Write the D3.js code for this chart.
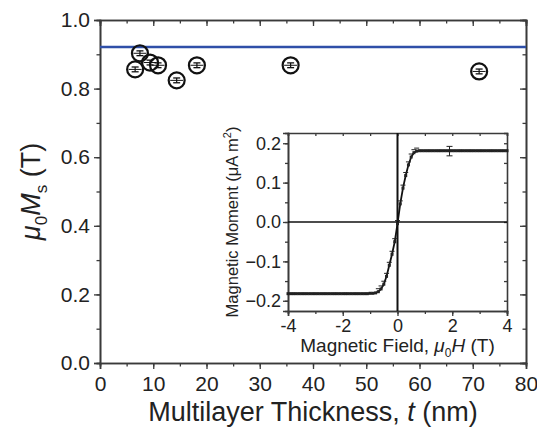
<!DOCTYPE html>
<html>
<head>
<meta charset="utf-8">
<script src="https://cdn.jsdelivr.net/npm/d3@7"></script>
<style>
  body { margin: 0; background: #fff; }
  svg { font-family: "Liberation Sans", Arial, sans-serif; }
</style>
</head>
<body>
<div id="chart"></div>
<script>
// main panel: saturation magnetisation vs multilayer thickness
var thickness = [6.6, 7.5, 9.4, 10.9, 14.4, 18.2, 35.8, 71.2];
var msValues = [0.856, 0.903, 0.876, 0.868, 0.824, 0.868, 0.868, 0.850];
var msErr = [0.007, 0.007, 0.007, 0.007, 0.007, 0.007, 0.007, 0.007];
var bulkMs = 0.921;
var xTicksMain = [0, 10, 20, 30, 40, 50, 60, 70, 80];
var yTicksMain = [0.0, 0.2, 0.4, 0.6, 0.8, 1.0];

// inset: hysteresis loop
var field = [-4.0, -3.9, -3.8, -3.7, -3.6, -3.5, -3.4, -3.3, -3.2, -3.1, -3.0, -2.9, -2.8, -2.7, -2.6, -2.5,
  -2.4, -2.3, -2.2, -2.1, -2.0, -1.9, -1.8, -1.7, -1.6, -1.5, -1.4, -1.3, -1.2, -1.1, -1.0, -0.9, -0.8,
  -0.7, -0.6, -0.5, -0.4, -0.3, -0.2, -0.1, 0.0, 0.1, 0.2, 0.3, 0.4, 0.5, 0.6, 0.7,
  0.8, 0.9, 1.0, 1.1, 1.2, 1.3, 1.4, 1.5, 1.6, 1.7, 1.8, 1.9, 2.0, 2.1, 2.2, 2.3, 2.4, 2.5,
  2.6, 2.7, 2.8, 2.9, 3.0, 3.1, 3.2, 3.3, 3.4, 3.5, 3.6, 3.7, 3.8, 3.9, 4.0];
var moment = [-0.182, -0.182, -0.182, -0.182, -0.182, -0.182, -0.182, -0.182, -0.182, -0.182, -0.182, -0.182, -0.182, -0.182, -0.182, -0.182,
  -0.182, -0.182, -0.182, -0.182, -0.182, -0.182, -0.182, -0.182, -0.182, -0.182, -0.182, -0.182, -0.182, -0.182, -0.181, -0.181, -0.180,
  -0.177, -0.170, -0.158, -0.138, -0.110, -0.082, -0.050, -0.004, 0.046, 0.086, 0.118, 0.145, 0.165, 0.176, 0.180,
  0.181, 0.181, 0.181, 0.181, 0.181, 0.181, 0.181, 0.181, 0.181, 0.181, 0.181, 0.181, 0.181, 0.181, 0.181, 0.181, 0.181, 0.181,
  0.181, 0.181, 0.181, 0.181, 0.181, 0.181, 0.181, 0.181, 0.181, 0.181, 0.181, 0.181, 0.181, 0.181, 0.181];
var errField = 1.9, errMoment = 0.180, errSize = 0.012;
var xTicksInset = [-4, -2, 0, 2, 4];
var yTicksInset = [-0.2, -0.1, 0.0, 0.1, 0.2];

var W = 537, H = 433;
var frameColor = '#3a3a3a';

var svg = d3.select('#chart').append('svg')
    .attr('width', W)
    .attr('height', H);

// ---- main axes ----
var m = {left: 100, top: 20, right: 526, bottom: 363};
var x = d3.scaleLinear().domain([0, 80]).range([m.left, m.right]);
var y = d3.scaleLinear().domain([0, 1]).range([m.bottom, m.top]);

function styleAxis(g, size) {
    g.selectAll('path').attr('stroke', frameColor).attr('stroke-width', 1.6);
    g.selectAll('line').attr('stroke', frameColor).attr('stroke-width', 1.3);
    g.selectAll('text').attr('fill', '#222').style('font-size', size + 'px');
}

var minorX = d3.range(0, 81, 5), minorY = d3.range(0, 1.001, 0.1);

// minor ticks first, then majors with labels
svg.append('g').attr('transform', 'translate(0,' + m.bottom + ')')
    .call(d3.axisBottom(x).tickValues(minorX).tickSize(3.5).tickFormat(''))
    .call(styleAxis, 17);
svg.append('g').attr('transform', 'translate(0,' + m.bottom + ')')
    .call(d3.axisBottom(x).tickValues(xTicksMain).tickSize(6).tickPadding(7).tickFormat(d3.format('d')))
    .call(styleAxis, 21);
svg.append('g').attr('transform', 'translate(' + m.left + ',0)')
    .call(d3.axisLeft(y).tickValues(minorY).tickSize(3.5).tickFormat(''))
    .call(styleAxis, 17);
svg.append('g').attr('transform', 'translate(' + m.left + ',0)')
    .call(d3.axisLeft(y).tickValues(yTicksMain).tickSize(6).tickPadding(4).tickFormat(d3.format('.1f')))
    .call(styleAxis, 21);
// mirror axes, inward ticks
svg.append('g').attr('transform', 'translate(0,' + m.top + ')')
    .call(d3.axisBottom(x).tickValues(minorX).tickSize(3.5).tickFormat(''))
    .call(styleAxis, 17);
svg.append('g').attr('transform', 'translate(0,' + m.top + ')')
    .call(d3.axisBottom(x).tickValues(xTicksMain).tickSize(6).tickFormat(''))
    .call(styleAxis, 17);
svg.append('g').attr('transform', 'translate(' + m.right + ',0)')
    .call(d3.axisLeft(y).tickValues(minorY).tickSize(3.5).tickFormat(''))
    .call(styleAxis, 17);
svg.append('g').attr('transform', 'translate(' + m.right + ',0)')
    .call(d3.axisLeft(y).tickValues(yTicksMain).tickSize(6).tickFormat(''))
    .call(styleAxis, 17);

// bulk value line
svg.append('line')
    .attr('x1', m.left).attr('x2', m.right)
    .attr('y1', y(bulkMs)).attr('y2', y(bulkMs))
    .attr('stroke', '#2f4fa8').attr('stroke-width', 2.5);

// data points with error bars inside
var pts = thickness.map((t, i) => ({t: t, ms: msValues[i], e: msErr[i]}));
var pg = svg.selectAll('.pt').data(pts).enter().append('g').attr('class', 'pt');
pg.append('circle')
    .attr('cx', d => x(d.t)).attr('cy', d => y(d.ms)).attr('r', 8)
    .attr('fill', 'none').attr('stroke', '#111').attr('stroke-width', 2.2);
pg.append('line')
    .attr('x1', d => x(d.t)).attr('x2', d => x(d.t))
    .attr('y1', d => y(d.ms + d.e)).attr('y2', d => y(d.ms - d.e))
    .attr('stroke', '#111').attr('stroke-width', 1.2);
pg.append('line')
    .attr('x1', d => x(d.t) - 3.5).attr('x2', d => x(d.t) + 3.5)
    .attr('y1', d => y(d.ms + d.e)).attr('y2', d => y(d.ms + d.e))
    .attr('stroke', '#111').attr('stroke-width', 1.3);
pg.append('line')
    .attr('x1', d => x(d.t) - 3.5).attr('x2', d => x(d.t) + 3.5)
    .attr('y1', d => y(d.ms - d.e)).attr('y2', d => y(d.ms - d.e))
    .attr('stroke', '#111').attr('stroke-width', 1.3);
pg.append('line')
    .attr('x1', d => x(d.t) - 6.5).attr('x2', d => x(d.t) + 6.5)
    .attr('y1', d => y(d.ms)).attr('y2', d => y(d.ms))
    .attr('stroke', '#111').attr('stroke-width', 1);

// main axis titles
var yl = svg.append('text')
    .attr('transform', 'translate(40,' + ((m.top + m.bottom) / 2) + ') rotate(-90)')
    .attr('text-anchor', 'middle')
    .style('font-size', '27px').attr('fill', '#222');
yl.append('tspan').style('font-style', 'italic').text('\u03bc');
yl.append('tspan').attr('dy', 7).style('font-size', '17px').text('0');
yl.append('tspan').attr('dy', -7).style('font-style', 'italic').text('M');
yl.append('tspan').attr('dy', 7).style('font-size', '17px').text('s');
yl.append('tspan').attr('dy', -7).text(' (T)');

var xl = svg.append('text')
    .attr('x', (m.left + m.right) / 2).attr('y', 421)
    .attr('text-anchor', 'middle')
    .style('font-size', '27px').attr('fill', '#222');
xl.append('tspan').text('Multilayer Thickness, ');
xl.append('tspan').style('font-style', 'italic').text('t');
xl.append('tspan').text(' (nm)');

// ---- inset ----
var ins = {left: 288, top: 133, right: 507, bottom: 311};
var xi = d3.scaleLinear().domain([-4, 4]).range([ins.left, ins.right]);
var yi = d3.scaleLinear().domain([-0.226, 0.226]).range([ins.bottom, ins.top]);

svg.append('rect')
    .attr('x', ins.left).attr('y', ins.top)
    .attr('width', ins.right - ins.left).attr('height', ins.bottom - ins.top)
    .attr('fill', '#fff');

var minorXi = d3.range(-4, 4.01, 1), minorYi = [-0.2, -0.15, -0.1, -0.05, 0, 0.05, 0.1, 0.15, 0.2];

svg.append('g').attr('transform', 'translate(0,' + ins.bottom + ')')
    .call(d3.axisBottom(xi).tickValues(minorXi).tickSize(3).tickFormat(''))
    .call(styleAxis, 15);
svg.append('g').attr('transform', 'translate(0,' + ins.bottom + ')')
    .call(d3.axisBottom(xi).tickValues(xTicksInset).tickSize(5).tickPadding(3).tickFormat(d => d))
    .call(styleAxis, 18);
svg.append('g').attr('transform', 'translate(' + ins.left + ',0)')
    .call(d3.axisLeft(yi).tickValues(minorYi).tickSize(3).tickFormat(''))
    .call(styleAxis, 15);
svg.append('g').attr('transform', 'translate(' + ins.left + ',0)')
    .call(d3.axisLeft(yi).tickValues(yTicksInset).tickSize(5).tickPadding(2).tickFormat(d3.format('.1f')))
    .call(styleAxis, 18);
svg.append('g').attr('transform', 'translate(0,' + ins.top + ')')
    .call(d3.axisBottom(xi).tickValues(minorXi).tickSize(3).tickFormat(''))
    .call(styleAxis, 15);
svg.append('g').attr('transform', 'translate(' + ins.right + ',0)')
    .call(d3.axisLeft(yi).tickValues(minorYi).tickSize(3).tickFormat(''))
    .call(styleAxis, 15);

// zero lines
svg.append('line')
    .attr('x1', ins.left).attr('x2', ins.right)
    .attr('y1', yi(0)).attr('y2', yi(0))
    .attr('stroke', '#111').attr('stroke-width', 1.5);
svg.append('line')
    .attr('x1', xi(0)).attr('x2', xi(0))
    .attr('y1', ins.top).attr('y2', ins.bottom)
    .attr('stroke', '#111').attr('stroke-width', 2);

// hysteresis curve
var loop = field.map((h, i) => ({h: h, mm: moment[i]}));
svg.append('path')
    .datum(loop)
    .attr('fill', 'none').attr('stroke', '#111').attr('stroke-width', 1.8)
    .attr('d', d3.line().x(d => xi(d.h)).y(d => yi(d.mm)));
svg.selectAll('.mk').data(loop).enter().append('rect')
    .attr('class', 'mk')
    .attr('x', d => xi(d.h) - 1.5).attr('y', d => yi(d.mm) - 1.5)
    .attr('width', 3).attr('height', 3)
    .attr('fill', '#222');
svg.selectAll('.mkbar').data(loop.filter(d => Math.abs(d.h) < 0.8)).enter().append('line')
    .attr('x1', d => xi(d.h) - 2.5).attr('x2', d => xi(d.h) + 2.5)
    .attr('y1', d => yi(d.mm) - 3).attr('y2', d => yi(d.mm) - 3)
    .attr('stroke', '#222').attr('stroke-width', 1);

// single error bar
svg.append('line')
    .attr('x1', xi(errField)).attr('x2', xi(errField))
    .attr('y1', yi(errMoment + errSize)).attr('y2', yi(errMoment - errSize))
    .attr('stroke', '#222').attr('stroke-width', 1);
[errMoment + errSize, errMoment - errSize].forEach(v => {
    svg.append('line')
        .attr('x1', xi(errField) - 3).attr('x2', xi(errField) + 3)
        .attr('y1', yi(v)).attr('y2', yi(v))
        .attr('stroke', '#222').attr('stroke-width', 1);
});

// inset titles
var iyl = svg.append('text')
    .attr('transform', 'translate(238,' + ((ins.top + ins.bottom) / 2) + ') rotate(-90)')
    .attr('text-anchor', 'middle')
    .style('font-size', '16.5px').attr('fill', '#222');
iyl.append('tspan').text('Magnetic Moment (\u03bcA m');
iyl.append('tspan').attr('dy', -7).style('font-size', '11px').text('2');
iyl.append('tspan').attr('dy', 7).text(')');

var ixl = svg.append('text')
    .attr('x', (ins.left + ins.right) / 2).attr('y', 352)
    .attr('text-anchor', 'middle')
    .style('font-size', '19px').attr('fill', '#222');
ixl.append('tspan').text('Magnetic Field, ');
ixl.append('tspan').style('font-style', 'italic').text('\u03bc');
ixl.append('tspan').attr('dy', 5).style('font-size', '12px').text('0');
ixl.append('tspan').attr('dy', -5).style('font-style', 'italic').text('H');
ixl.append('tspan').text(' (T)');
</script>
</body>
</html>
